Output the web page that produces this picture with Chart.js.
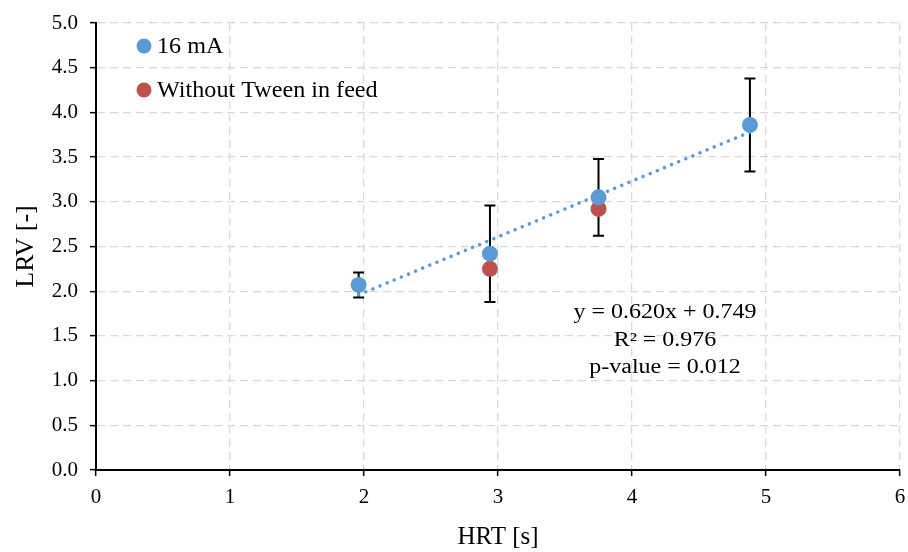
<!DOCTYPE html>
<html>
<head>
<meta charset="utf-8">
<script src="https://cdn.jsdelivr.net/npm/chart.js@4"></script>
<style>
html,body{margin:0;padding:0;background:#fff;}
#wrap{position:relative;width:908px;height:552px;}
</style>
</head>
<body>
<div id="wrap"><canvas id="c" width="908" height="552"></canvas></div>
<script>
// ---- data ----
const hrt16 = [1.96, 2.94, 3.75, 4.88];
const lrv16 = [2.07, 2.42, 3.05, 3.86];
const err16 = [0.14, 0.54, 0.43, 0.52];
const hrtNoTween = [2.94, 3.75];
const lrvNoTween = [2.25, 2.92];
const trendX = [1.96, 4.88];
const trendY = [1.96, 3.78];
const seriesNames = ['16 mA', 'Without Tween in feed'];
const annotationLines = ['y = 0.620x + 0.749', 'R\u00b2 = 0.976', 'p-value = 0.012'];
const xTitle = 'HRT [s]';
const yTitle = 'LRV [-]';

const BLUE = '#5b9bd5';
const RED = '#c0504d';
const FONT = '"Liberation Serif", "Times New Roman", serif';

const errorBars = {
  id: 'errorBars',
  beforeDatasetsDraw(chart) {
    const {ctx, scales: {x, y}} = chart;
    ctx.save();
    ctx.strokeStyle = '#000';
    ctx.lineWidth = 2;
    hrt16.forEach((xv, i) => {
      const px = x.getPixelForValue(xv);
      const top = y.getPixelForValue(lrv16[i] + err16[i]);
      const bot = y.getPixelForValue(lrv16[i] - err16[i]);
      ctx.beginPath();
      ctx.moveTo(px, top); ctx.lineTo(px, bot);
      ctx.moveTo(px - 5.5, top); ctx.lineTo(px + 5.5, top);
      ctx.moveTo(px - 5.5, bot); ctx.lineTo(px + 5.5, bot);
      ctx.stroke();
    });
    ctx.restore();
  }
};

function stretchedText(ctx, text, x, y, sx) {
  ctx.save();
  ctx.translate(x, y);
  ctx.scale(sx, 1);
  ctx.fillText(text, 0, 0);
  ctx.restore();
}

const overlayText = {
  id: 'overlayText',
  afterDraw(chart) {
    const {ctx} = chart;
    ctx.save();
    // legend
    const colors = [BLUE, RED];
    const lx = 144, ly = [46, 90];
    ctx.font = '23px ' + FONT;
    ctx.textBaseline = 'middle';
    ctx.textAlign = 'left';
    seriesNames.forEach((n, i) => {
      ctx.fillStyle = colors[i];
      ctx.beginPath();
      ctx.arc(lx, ly[i], 7.5, 0, Math.PI * 2);
      ctx.fill();
      ctx.fillStyle = '#000';
      stretchedText(ctx, n, lx + 13, ly[i] + 1, 1.05);
    });
    // regression annotation
    ctx.font = '20px ' + FONT;
    ctx.textAlign = 'center';
    const ay = [313, 341, 368];
    annotationLines.forEach((t, i) => stretchedText(ctx, t, 665, ay[i], 1.2));
    ctx.restore();
  }
};

new Chart(document.getElementById('c'), {
  type: 'scatter',
  data: {
    datasets: [
      {
        label: 'trend',
        type: 'line',
        data: trendX.map((v, i) => ({x: v, y: trendY[i]})),
        borderColor: BLUE,
        borderWidth: 3.5,
        borderDash: [0.1, 7.6],
        borderCapStyle: 'round',
        pointRadius: 0,
        fill: false,
        order: 3
      },
      {
        label: seriesNames[1],
        data: hrtNoTween.map((v, i) => ({x: v, y: lrvNoTween[i]})),
        backgroundColor: RED,
        borderColor: RED,
        pointRadius: 8,
        borderWidth: 0,
        order: 2
      },
      {
        label: seriesNames[0],
        data: hrt16.map((v, i) => ({x: v, y: lrv16[i]})),
        backgroundColor: BLUE,
        borderColor: BLUE,
        pointRadius: 8,
        borderWidth: 0,
        order: 1
      }
    ]
  },
  options: {
    responsive: false,
    animation: false,
    layout: {padding: {top: 23, right: 5, left: 0, bottom: 0}},
    plugins: {legend: {display: false}, tooltip: {enabled: false}},
    scales: {
      x: {
        type: 'linear', min: 0, max: 6,
        ticks: {stepSize: 1, color: '#000', font: {family: FONT, size: 21}, padding: 9},
        grid: {color: '#d9d9d9', lineWidth: 1.3, tickColor: '#000', tickLength: 6, tickWidth: 1.5, tickBorderDash: [100, 0]},
        border: {color: '#000', width: 2, dash: [8, 5]},
        title: {display: true, text: xTitle, color: '#000', font: {family: FONT, size: 25}, padding: {top: 0, bottom: 0}},
        afterFit(s) { s.height = 82; s.paddingRight = 0; s.paddingLeft = 0; }
      },
      y: {
        type: 'linear', min: 0, max: 5,
        ticks: {stepSize: 0.5, color: '#000', font: {family: FONT, size: 21}, padding: 12, callback: v => v.toFixed(1)},
        grid: {color: '#d9d9d9', lineWidth: 1.3, tickColor: '#000', tickLength: 6, tickWidth: 1.5, tickBorderDash: [100, 0]},
        border: {color: '#000', width: 2, dash: [8, 5]},
        title: {display: true, text: yTitle, color: '#000', font: {family: FONT, size: 26}, padding: {top: 11, bottom: 0}},
        afterFit(s) { s.width = 96; s.paddingTop = 0; }
      }
    }
  },
  plugins: [errorBars, overlayText]
});
</script>
</body>
</html>
